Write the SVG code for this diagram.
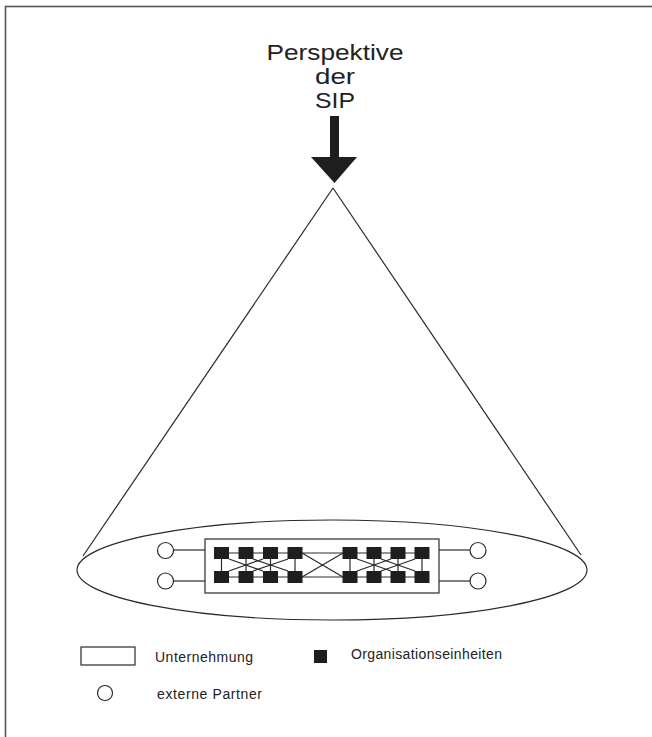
<svg xmlns="http://www.w3.org/2000/svg" width="652" height="737" viewBox="0 0 652 737">
<style>
.ln{stroke:#2a2a2a;stroke-width:1.2;fill:none}
.sq{fill:#1e1e1e;stroke:none}
.ttl{font-family:"Liberation Sans",Arial,sans-serif;font-size:22px;fill:#222;text-anchor:middle}
.lg{font-family:"Liberation Sans",Arial,sans-serif;font-size:14px;fill:#222}
</style>
<rect width="652" height="737" fill="#fff"/>
<rect x="5.5" y="6.5" width="700" height="800" fill="none" stroke="#555" stroke-width="1.6"/>

<g id="title">
<text class="ttl" x="335" y="60" textLength="137" lengthAdjust="spacingAndGlyphs">Perspektive</text>
<text class="ttl" x="335" y="84" textLength="40" lengthAdjust="spacingAndGlyphs">der</text>
<text class="ttl" x="335" y="108" textLength="40" lengthAdjust="spacingAndGlyphs">SIP</text>
</g>
<g id="arrow">
<polygon points="330,116 339,116 339,157 357,157 334.5,183 311,157 330,157" fill="#1e1e1e"/>
</g>

<g id="connectors">
<line class="ln" x1="333" y1="188" x2="83" y2="556"/>
<line class="ln" x1="333" y1="188" x2="581" y2="555"/>
<line class="ln" x1="173" y1="550" x2="205" y2="550"/>
<line class="ln" x1="173" y1="581" x2="205" y2="581"/>
<line class="ln" x1="439" y1="550" x2="470" y2="550"/>
<line class="ln" x1="439" y1="581" x2="470" y2="581"/>
<line class="ln" x1="221" y1="553" x2="422" y2="553"/>
<line class="ln" x1="221" y1="577" x2="422" y2="577"/>
<line class="ln" x1="221.5" y1="553" x2="221.5" y2="577"/>
<line class="ln" x1="246" y1="553" x2="246" y2="577"/>
<line class="ln" x1="270.5" y1="553" x2="270.5" y2="577"/>
<line class="ln" x1="295" y1="553" x2="295" y2="577"/>
<line class="ln" x1="350" y1="553" x2="350" y2="577"/>
<line class="ln" x1="374" y1="553" x2="374" y2="577"/>
<line class="ln" x1="398" y1="553" x2="398" y2="577"/>
<line class="ln" x1="422" y1="553" x2="422" y2="577"/>
<line class="ln" x1="229" y1="559" x2="263" y2="571"/>
<line class="ln" x1="229" y1="571" x2="263" y2="559"/>
<line class="ln" x1="253" y1="559" x2="288" y2="571"/>
<line class="ln" x1="253" y1="571" x2="288" y2="559"/>
<line class="ln" x1="302" y1="553" x2="343" y2="577"/>
<line class="ln" x1="302" y1="577" x2="343" y2="553"/>
<line class="ln" x1="357" y1="559" x2="391" y2="571"/>
<line class="ln" x1="357" y1="571" x2="391" y2="559"/>
<line class="ln" x1="381" y1="559" x2="415" y2="571"/>
<line class="ln" x1="381" y1="571" x2="415" y2="559"/>
</g>

<g id="ellipse">
<ellipse class="ln" cx="332" cy="570" rx="255" ry="50"/>
</g>
<g id="unternehmung">
<rect class="ln" x="205" y="539" width="234" height="54"/>
</g>
<g id="org-units">
<rect class="sq" x="214" y="547" width="15" height="12"/>
<rect class="sq" x="238.5" y="547" width="15" height="12"/>
<rect class="sq" x="263" y="547" width="15" height="12"/>
<rect class="sq" x="287.5" y="547" width="15" height="12"/>
<rect class="sq" x="214" y="571" width="15" height="12"/>
<rect class="sq" x="238.5" y="571" width="15" height="12"/>
<rect class="sq" x="263" y="571" width="15" height="12"/>
<rect class="sq" x="287.5" y="571" width="15" height="12"/>
<rect class="sq" x="342.5" y="547" width="15" height="12"/>
<rect class="sq" x="366.5" y="547" width="15" height="12"/>
<rect class="sq" x="390.5" y="547" width="15" height="12"/>
<rect class="sq" x="414.5" y="547" width="15" height="12"/>
<rect class="sq" x="342.5" y="571" width="15" height="12"/>
<rect class="sq" x="366.5" y="571" width="15" height="12"/>
<rect class="sq" x="390.5" y="571" width="15" height="12"/>
<rect class="sq" x="414.5" y="571" width="15" height="12"/>
</g>
<g id="partners">
<circle class="ln" cx="165.5" cy="550.5" r="8"/>
<circle class="ln" cx="165.5" cy="581" r="8"/>
<circle class="ln" cx="478" cy="550.5" r="8"/>
<circle class="ln" cx="478" cy="581" r="8"/>
</g>

<g id="legend">
<rect class="ln" x="81" y="647" width="54" height="18"/>
<text class="lg" x="155" y="662" textLength="98" lengthAdjust="spacing">Unternehmung</text>
<rect class="sq" x="314" y="650" width="13" height="13"/>
<text class="lg" x="351" y="659" textLength="151" lengthAdjust="spacing">Organisationseinheiten</text>
<circle class="ln" cx="105" cy="693" r="7.5"/>
<text class="lg" x="157" y="699" textLength="105" lengthAdjust="spacing">externe Partner</text>
</g>
</svg>
